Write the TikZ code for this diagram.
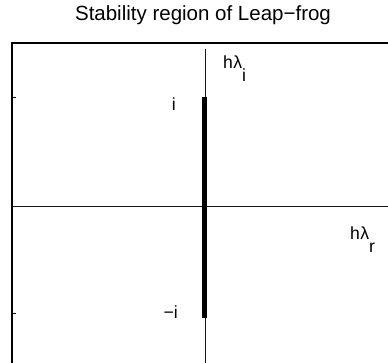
\documentclass[tikz,border=0pt]{standalone}
\usepackage{fontspec}
\setmainfont{Liberation Sans}
\usetikzlibrary{positioning,calc}
\definecolor{AxisGray}{RGB}{20,20,20}
\newcommand{\hsub}[1]{h\kern0.3pt λ\raisebox{-13pt}{#1}}
\tikzset{
  frameline/.style={draw=black,line width=1.6pt},
  axisline/.style={draw=AxisGray,line width=1pt},
  stabbar/.style={draw=black,line width=4.5pt},
  tickmark/.style={draw=black,line width=1pt},
  plotlabel/.style={font=\fontsize{17.6}{20}\selectfont,inner sep=0pt},
  titlelabel/.style={font=\fontsize{20.5}{24}\selectfont,inner sep=0pt}
}

\begin{document}
\begin{tikzpicture}[x=1pt,y=-1pt]
\clip (0,0) rectangle (388,362);
\coordinate (boxTL) at (12,43);
\coordinate (boxTR) at (392,43);
\coordinate (boxBL) at (12,366);
\coordinate (reW) at (12,206);
\coordinate (reE) at (392,206);
\coordinate (imN) at (205.5,49);
\coordinate (imS) at (205.5,366);
\coordinate (barN) at (204.5,96.5);
\coordinate (barS) at (204.5,318);

% frame
\draw[frameline] (boxBL) -- (boxTL) -- (boxTR);
\draw[tickmark] (12,97) -- (15.5,97);
\draw[tickmark] (12,313.5) -- (15.5,313.5);

% axes
\draw[axisline] (reW) -- (reE);
\draw[axisline] (imN) -- (imS);
\draw[stabbar] (barN) -- (barS);

\node[titlelabel,anchor=base] (title) at (203,20) {Stability region of Leap−frog};
\node[plotlabel,anchor=base west] (imlab) at (223,68) {\hsub{i}};
\node[plotlabel,anchor=base west] (relab) at (350,239) {\hsub{r}};
\node[plotlabel,anchor=base east] (ilab) at (176,110) {i};
\node[plotlabel,anchor=base east] (milab) at (178,318) {−i};
\end{tikzpicture}
\end{document}
